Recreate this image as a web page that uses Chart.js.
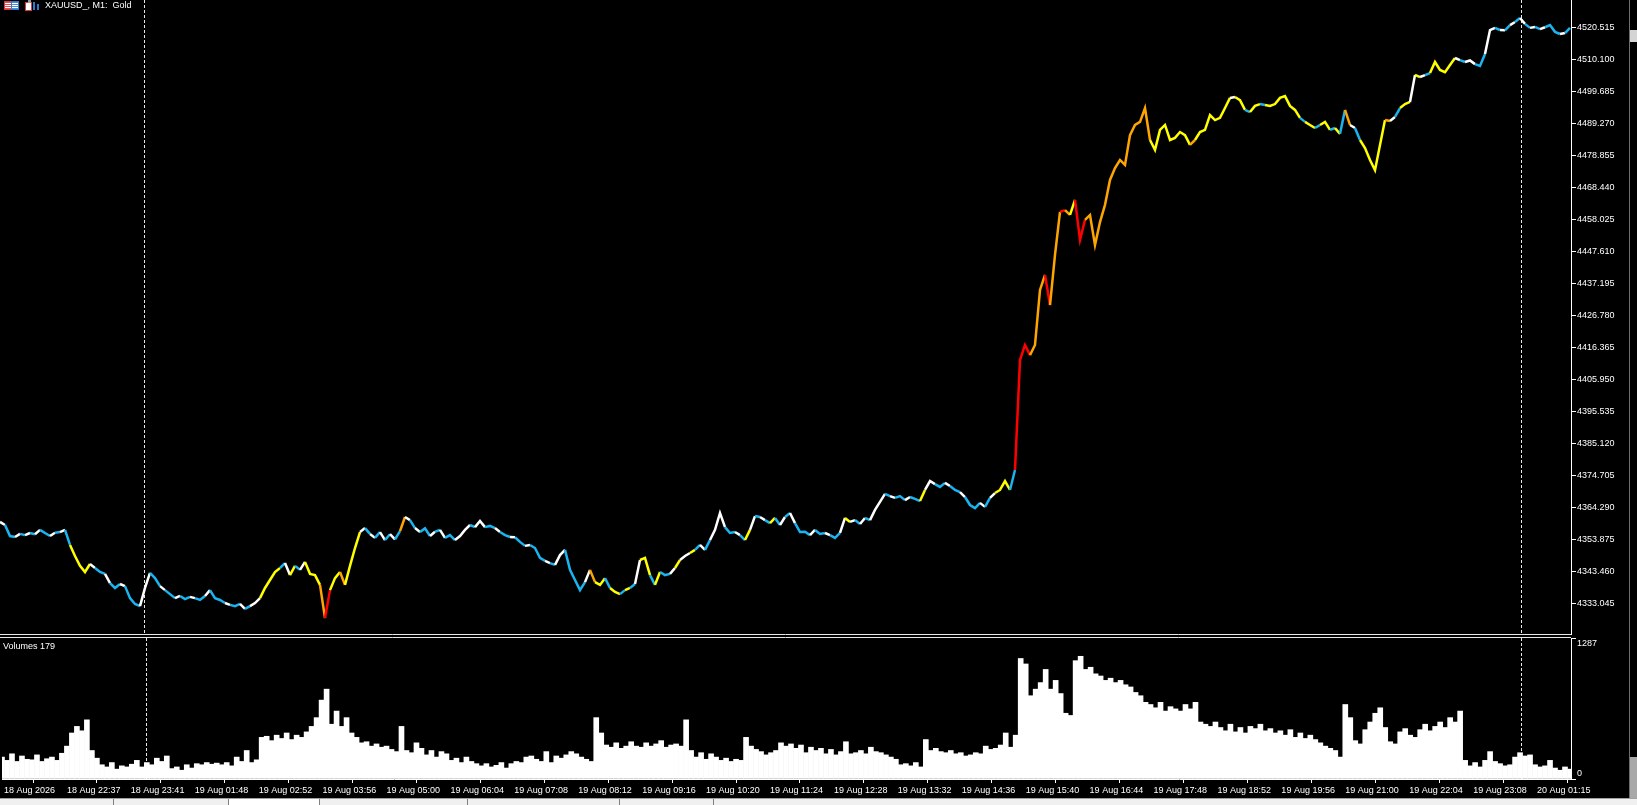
<!DOCTYPE html>
<html><head><meta charset="utf-8">
<script src="https://cdn.jsdelivr.net/npm/chart.js@4.4.1/dist/chart.umd.min.js"></script>
<style>
html,body{margin:0;padding:0;background:#000;width:1637px;height:805px;overflow:hidden;}
#p1{position:absolute;left:0;top:0;width:1637px;height:635px;}
#p2{position:absolute;left:0;top:635px;width:1637px;height:170px;}
.lbl{position:absolute;color:#fff;font:9px "Liberation Sans",Arial,sans-serif;white-space:pre;line-height:11px;z-index:5;}
.chrome{position:absolute;z-index:6;}
</style></head><body>
<div id="p1"><canvas id="c1"></canvas></div>
<div id="p2"><canvas id="c2"></canvas></div>
<div class="chrome" style="left:4px;top:1px;width:6px;height:7px;border:1px solid #d83a3a;background:repeating-linear-gradient(#e85050 0 1px,#fff 1px 2px);"></div>
<div class="chrome" style="left:11px;top:1px;width:6px;height:7px;border:1px solid #2f78d0;background:repeating-linear-gradient(#4a8ee0 0 1px,#fff 1px 2px);"></div>
<div class="chrome" style="left:25px;top:2px;width:5px;height:7px;border:1px solid #d83a3a;background:#fff;"></div>
<div class="chrome" style="left:28px;top:0px;width:3px;height:3px;background:#9a9a9a;"></div>
<div class="chrome" style="left:33px;top:2px;width:2px;height:8px;background:#2f78d0;"></div>
<div class="chrome" style="left:37px;top:4px;width:2px;height:6px;background:#2f78d0;"></div>
<div class="lbl" style="left:45px;top:0px">XAUUSD_, M1:  Gold</div>
<div class="lbl" style="left:3px;top:641px">Volumes 179</div>
<div class="chrome" style="left:1629px;top:0;width:1px;height:798px;background:#6e6e6e;"></div>
<div class="chrome" style="left:1630px;top:30px;width:7px;height:12px;background:#d4d4d4;"></div>
<div class="chrome" style="left:1630px;top:757px;width:7px;height:41px;background:#a8a8a8;"></div>
<div class="chrome" style="left:0;top:798px;width:1637px;height:7px;background:#f0f0f0;border-top:1px solid #a0a0a0;"></div>
<div class="chrome" style="left:113px;top:799px;width:1px;height:6px;background:#808080;"></div>
<div class="chrome" style="left:228px;top:799px;width:90px;height:6px;background:#fff;border-left:1px solid #808080;border-right:1px solid #808080;"></div>
<div class="chrome" style="left:467px;top:799px;width:1px;height:6px;background:#808080;"></div>
<div class="chrome" style="left:619px;top:799px;width:1px;height:6px;background:#808080;"></div>
<div class="chrome" style="left:713px;top:799px;width:1px;height:6px;background:#808080;"></div>
<script>
// ---- data (one sample every 5 one-minute bars) ----
const barStep = 5;
const closePrices = [
4359.6,4358.6,4355.0,4354.7,4355.7,4355.3,4356.0,4355.6,4357.0,4356.0,4355.0,4356.1,4356.3,4357.0,4352.1,4348.5,4345.3,4343.3,4345.9,4344.6,
4343.3,4342.7,4339.7,4338.1,4339.4,4338.7,4334.8,4332.9,4332.2,4338.1,4343.0,4341.3,4338.7,4337.4,4336.1,4334.8,4335.5,4334.5,4335.2,4334.8,
4334.2,4335.5,4337.4,4334.8,4334.2,4333.2,4332.6,4332.2,4332.9,4331.3,4332.2,4333.2,4334.8,4338.1,4340.7,4343.3,4344.6,4346.2,4342.3,4345.3,
4344.0,4346.6,4342.7,4342.3,4339.1,4328.3,4337.4,4341.3,4343.3,4339.1,4345.3,4351.1,4356.3,4357.6,4355.7,4354.4,4356.3,4353.7,4355.6,4353.9,
4356.6,4361.2,4360.2,4357.6,4356.3,4357.5,4355.0,4356.4,4357.0,4354.4,4355.3,4353.7,4355.0,4357.0,4358.6,4357.9,4359.9,4357.9,4358.3,4357.6,
4356.3,4355.3,4354.7,4354.6,4353.1,4351.8,4352.1,4351.1,4347.9,4346.9,4346.2,4345.6,4348.8,4350.5,4344.0,4340.7,4337.4,4340.0,4344.0,4340.0,
4339.1,4341.3,4338.1,4336.8,4336.1,4337.4,4338.1,4339.4,4347.2,4347.9,4342.3,4339.1,4343.3,4342.3,4342.7,4344.6,4347.2,4348.5,4349.5,4350.5,
4352.1,4350.5,4353.7,4357.0,4362.5,4357.9,4356.0,4356.3,4355.3,4353.7,4357.0,4361.5,4361.2,4360.2,4359.2,4360.9,4358.6,4361.2,4362.5,4359.2,
4356.3,4356.4,4355.3,4357.0,4355.7,4356.0,4355.3,4354.4,4356.0,4360.9,4359.6,4360.2,4358.9,4360.9,4360.2,4363.5,4366.1,4368.7,4368.0,4367.4,
4368.0,4366.7,4367.7,4367.1,4366.4,4370.0,4372.9,4371.9,4371.0,4372.3,4371.3,4370.0,4369.3,4367.7,4365.1,4364.1,4365.8,4364.5,4367.4,4369.0,
4370.0,4372.9,4370.0,4376.5,4412.3,4417.2,4413.9,4417.2,4435.1,4440.0,4430.2,4446.5,4460.5,4461.1,4459.5,4464.4,4451.4,4457.9,4459.5,4449.7,
4457.2,4462.8,4470.9,4474.8,4477.4,4475.8,4485.5,4488.8,4489.8,4494.3,4483.9,4480.7,4487.2,4488.8,4483.9,4484.6,4486.5,4485.5,4482.3,4483.9,
4486.5,4487.2,4492.0,4490.4,4491.1,4494.3,4497.6,4497.9,4496.9,4493.7,4493.0,4495.0,4495.6,4495.3,4495.0,4495.6,4497.6,4498.2,4495.0,4493.7,
4491.1,4489.8,4488.8,4487.8,4488.8,4489.8,4487.2,4487.8,4485.9,4493.7,4488.8,4487.8,4483.9,4481.3,4477.4,4474.1,4482.3,4490.4,4490.1,4491.4,
4494.3,4495.6,4496.3,4505.1,4504.4,4505.0,4505.7,4509.3,4506.7,4506.0,4508.3,4510.6,4509.9,4509.3,4509.8,4508.6,4508.0,4511.9,4519.7,4520.4,
4519.7,4519.6,4521.3,4522.3,4523.6,4521.7,4520.4,4520.7,4520.0,4520.6,4521.3,4519.1,4518.4,4518.7,4520.4
];
// volume tier of each sample: 0 blue, 1 white, 2 yellow, 3 orange, 4 red
const volumeTier = [
1,0,0,1,0,1,0,1,0,0,1,0,1,0,2,2,2,2,1,0,
0,1,0,0,1,0,0,0,1,1,0,0,1,0,0,1,0,0,1,0,
0,1,0,0,0,1,0,0,1,0,1,1,2,2,2,2,0,1,2,0,
1,2,2,2,3,4,2,2,3,2,2,2,1,0,1,0,1,0,1,0,
3,1,0,1,0,0,1,0,1,0,0,1,1,1,0,1,1,0,0,1,
0,0,1,0,0,1,0,0,0,1,0,1,1,0,0,0,0,1,3,2,
2,0,2,2,0,2,0,1,2,2,0,2,0,0,1,2,1,1,2,0,
1,0,1,1,1,0,0,1,0,2,1,0,1,0,2,0,1,0,1,0,
0,0,1,0,0,1,0,0,1,2,1,0,1,0,1,1,1,0,1,0,
0,1,0,0,2,1,1,0,0,1,0,0,1,0,0,0,1,0,1,2,
2,2,0,4,4,4,3,3,3,4,3,3,4,3,2,4,4,3,3,3,
3,3,3,3,3,3,3,3,3,3,2,2,2,2,2,2,2,2,3,2,
2,2,2,2,2,2,1,2,2,0,2,2,0,2,2,2,2,2,2,2,
0,2,2,0,2,2,0,2,0,3,1,0,2,2,2,2,2,3,1,0,
2,2,1,2,1,0,2,2,2,2,2,1,0,1,1,0,0,1,1,0,
1,0,1,0,1,0,1,0,1,0,0,0,1,0,1
];
const tickVolumes = [
200,170,230,160,210,180,175,220,160,185,200,170,235,300,420,480,440,540,260,190,
130,110,150,90,120,110,135,170,110,150,130,190,160,210,95,110,80,130,100,140,
130,150,135,145,130,150,120,200,160,260,150,175,380,390,350,400,370,420,360,400,
380,430,480,560,720,820,500,620,480,560,420,380,330,340,300,320,290,300,270,250,
480,260,240,330,280,220,260,200,250,230,170,190,150,200,160,140,120,140,110,125,
150,100,140,160,150,200,210,180,160,250,150,210,190,220,250,230,200,180,160,560,
420,310,290,330,280,300,340,300,290,330,300,320,350,290,310,320,300,540,260,200,
240,180,230,200,170,190,160,180,170,380,300,270,250,220,240,260,330,300,320,280,
310,240,290,260,280,230,270,220,250,340,230,240,260,230,290,250,240,220,200,180,
130,140,120,150,110,360,260,280,250,240,260,230,240,210,220,240,230,300,270,280,
310,420,290,400,1100,1050,760,820,880,1000,820,900,780,600,580,1080,1120,1000,1020,960,
940,900,920,880,900,860,840,790,760,700,680,650,700,620,660,640,620,680,640,700,
520,500,480,520,470,440,500,430,470,420,480,460,500,440,460,420,440,400,450,380,
420,370,400,360,330,300,280,260,200,680,560,350,320,450,520,600,650,470,340,320,
430,460,400,380,450,500,440,480,520,470,560,520,620,170,120,150,110,170,250,160,
140,120,130,200,240,210,220,130,110,120,170,100,80,110,90
];
const priceTicks = [4333.045,4343.460,4353.875,4364.290,4374.705,4385.120,4395.535,4405.950,4416.365,4426.780,4437.195,4447.610,4458.025,4468.440,4478.855,4489.270,4499.685,4510.100,4520.515];
const priceRange = [4323.12, 4529.47];
const volumeTicks = [0, 1287];
const volumeTickLabels = ['0', '1287'];
const timeTickMinutes = [0,63,127,191,255,319,383,447,511,575,639,703,767,831,895,959,1023,1087,1151,1215,1279,1343,1407,1471,1535];
const timeLabels = ['18 Aug 2026','18 Aug 22:37','18 Aug 23:41','19 Aug 01:48','19 Aug 02:52','19 Aug 03:56','19 Aug 05:00','19 Aug 06:04','19 Aug 07:08','19 Aug 08:12','19 Aug 09:16','19 Aug 10:20','19 Aug 11:24','19 Aug 12:28','19 Aug 13:32','19 Aug 14:36','19 Aug 15:40','19 Aug 16:44','19 Aug 17:48','19 Aug 18:52','19 Aug 19:56','19 Aug 21:00','19 Aug 22:04','19 Aug 23:08','20 Aug 01:15'];
const dayBreaks = [144, 1521];
const visibleMinutes = 1571;

// ---- styling ----
const tierColors = ['#1ab4f0','#ffffff','#ffff00','#ffa500','#ff0000'];
const axisFont = {family:'"Liberation Sans", Arial, sans-serif', size:9};
const AXIS_W = 66;

const fitRightAxis = s => { s.width = AXIS_W; s.paddingTop = 0; s.paddingBottom = 0; };

const daySeparators = {
  id:'daySeparators',
  beforeDatasetsDraw(chart){
    const {ctx, chartArea:a, scales:{x}} = chart;
    ctx.save();
    ctx.strokeStyle = '#e8e8e8'; ctx.lineWidth = 1; ctx.setLineDash([3,2]);
    dayBreaks.forEach(m => {
      const px = Math.round(x.getPixelForValue(m)) + 0.5;
      ctx.beginPath(); ctx.moveTo(px, a.top); ctx.lineTo(px, a.bottom); ctx.stroke();
    });
    ctx.restore();
  }
};
const panelEdge = {
  id:'panelEdge',
  afterDraw(chart, args, opts){
    const {ctx, chartArea:a} = chart;
    const y = opts.side === 'bottom' ? a.bottom + 0.5 : a.top - 0.5;
    ctx.save(); ctx.strokeStyle = '#e8e8e8'; ctx.lineWidth = 1;
    ctx.beginPath(); ctx.moveTo(0, y); ctx.lineTo(a.right, y); ctx.stroke();
    ctx.restore();
  }
};

const pricePoints = closePrices.map((p, i) => ({x: i * barStep, y: p}));
const volumePoints = tickVolumes.map((v, i) => ({x: i * barStep, y: v}));

new Chart(document.getElementById('c1'), {
  type:'line',
  data:{datasets:[{
    data: pricePoints, borderColor:'#1ab4f0', borderWidth:2.5, pointRadius:0, tension:0,
    segment:{borderColor: c => tierColors[volumeTier[c.p0DataIndex]]}
  }]},
  options:{
    animation:false, responsive:true, maintainAspectRatio:false,
    layout:{padding:{left:0, right:0, top:0, bottom:1}},
    plugins:{legend:{display:false}, tooltip:{enabled:false}, panelEdge:{side:'bottom'}},
    scales:{
      x:{type:'linear', display:false, min:0, max:visibleMinutes},
      y:{position:'right', min:priceRange[0], max:priceRange[1],
        afterFit: fitRightAxis,
        afterBuildTicks: s => { s.ticks = priceTicks.map(v => ({value:v})); },
        ticks:{color:'#ffffff', font:axisFont, padding:1, autoSkip:false, callback: v => Number(v).toFixed(3)},
        grid:{drawOnChartArea:false, color:'#ffffff', tickLength:5},
        border:{display:true, color:'#ffffff', width:1}
      }
    }
  },
  plugins:[daySeparators, panelEdge]
});

new Chart(document.getElementById('c2'), {
  type:'bar',
  data:{datasets:[{
    data: volumePoints, backgroundColor:'#ffffff', borderWidth:0, barPercentage:1, categoryPercentage:1
  }]},
  options:{
    animation:false, responsive:true, maintainAspectRatio:false,
    layout:{padding:{left:0, right:0, top:3, bottom:0}},
    plugins:{legend:{display:false}, tooltip:{enabled:false}, panelEdge:{side:'top'}},
    scales:{
      x:{type:'linear', min:0, max:visibleMinutes, offset:false,
        afterFit: s => { s.height = 26; },
        afterBuildTicks: s => { s.ticks = timeTickMinutes.map(v => ({value:v})); },
        ticks:{color:'#ffffff', font:axisFont, align:'start', labelOffset:2, padding:2, maxRotation:0, autoSkip:false,
          callback: (v, i) => timeLabels[i]},
        grid:{drawOnChartArea:false, color:'#ffffff', tickLength:4},
        border:{display:true, color:'#ffffff', width:1}
      },
      y:{position:'right', min:0, max:volumeTicks[1],
        afterFit: fitRightAxis,
        afterBuildTicks: s => { s.ticks = volumeTicks.map(v => ({value:v})); },
        ticks:{color:'#ffffff', font:axisFont, padding:1, autoSkip:false,
          callback: (v, i) => i === 0 ? [volumeTickLabels[i], ''] : ['', volumeTickLabels[i]]},
        grid:{drawOnChartArea:false, color:'#ffffff', tickLength:5},
        border:{display:true, color:'#ffffff', width:1}
      }
    }
  },
  plugins:[daySeparators, panelEdge]
});
</script>
</body></html>
